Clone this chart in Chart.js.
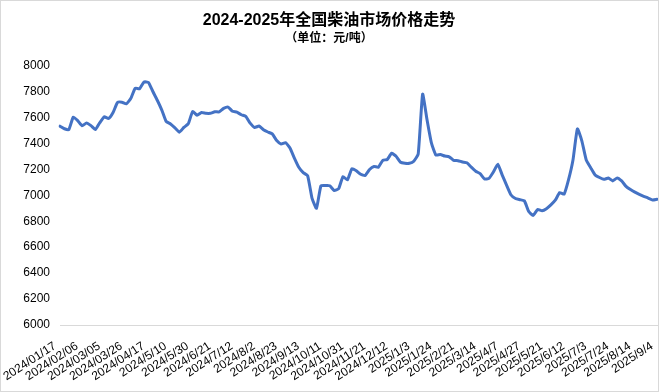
<!DOCTYPE html>
<html>
<head>
<meta charset="utf-8">
<script src="https://cdn.jsdelivr.net/npm/chart.js@4"></script>
<style>
  body { margin: 0; background: #fff; }
  #wrap { position: absolute; left: 0; top: 0; width: 657px; height: 390px; border: 1px solid #d9d9d9; }
</style>
</head>
<body>
<div id="wrap"><canvas id="priceChart" width="657" height="390"></canvas></div>
<script>
// Tick labels shown on the x axis (one every 5 points)
const tickLabels = [
  '2024/01/17', '2024/02/06', '2024/03/05', '2024/03/26', '2024/04/17', '2024/5/10', '2024/5/30',
  '2024/6/21', '2024/7/12', '2024/8/2', '2024/8/23', '2024/9/13', '2024/10/11', '2024/10/31',
  '2024/11/21', '2024/12/12', '2025/1/3', '2025/1/24', '2025/2/21', '2025/3/14', '2025/4/7',
  '2025/4/27', '2025/5/21', '2025/6/12', '2025/7/3', '2025/7/24', '2025/8/14', '2025/9/4'
];

// Diesel price, yuan/ton
const prices = [
  7533, 7513, 7507, 7603, 7576, 7536, 7558, 7537, 7507, 7560,
  7605, 7592, 7638, 7716, 7718, 7705, 7746, 7826, 7822, 7874,
  7870, 7800, 7733, 7659, 7570, 7550, 7520, 7487, 7523, 7551,
  7646, 7617, 7638, 7632, 7632, 7644, 7643, 7670, 7680, 7648,
  7641, 7621, 7609, 7556, 7523, 7534, 7506, 7488, 7473, 7422,
  7395, 7406, 7365, 7287, 7216, 7175, 7151, 6976, 6900, 7073,
  7075, 7074, 7037, 7050, 7144, 7119, 7205, 7189, 7162, 7153,
  7199, 7222, 7217, 7270, 7276, 7324, 7301, 7255, 7247, 7247,
  7263, 7318, 7780, 7582, 7402, 7310, 7314, 7303, 7297, 7270,
  7267, 7257, 7251, 7217, 7186, 7167, 7126, 7130, 7179, 7240,
  7156, 7077, 7002, 6975, 6966, 6958, 6875, 6845, 6890, 6881,
  6897, 6926, 6962, 7021, 7009, 7120, 7272, 7512, 7420, 7272,
  7213, 7157, 7137, 7123, 7133, 7111, 7134, 7111, 7069, 7044,
  7024, 7007, 6992, 6979, 6964, 6969
];

const labels = prices.map((_, i) => (i % 5 === 0 ? tickLabels[i / 5] : ''));

const fontFamily = '"Liberation Sans", Arial, "Noto Sans CJK SC", sans-serif';

const ctx = document.getElementById('priceChart').getContext('2d');
new Chart(ctx, {
  type: 'line',
  data: {
    labels: labels,
    datasets: [{
      data: prices,
      borderColor: '#4472C4',
      borderWidth: 3,
      pointRadius: 0,
      fill: false,
      tension: 0.15,
      borderJoinStyle: 'round',
      borderCapStyle: 'round'
    }]
  },
  options: {
    responsive: false,
    animation: false,
    layout: { padding: { left: 0, right: 1, top: 0, bottom: 0 } },
    plugins: {
      legend: { display: false },
      tooltip: { enabled: false },
      title: {
        display: true,
        text: '2024-2025年全国柴油市场价格走势',
        color: '#000',
        font: { family: fontFamily, size: 16, weight: 'bold' },
        padding: { top: 10, bottom: 0 }
      },
      subtitle: {
        display: true,
        text: '（单位：元/吨）',
        color: '#000',
        font: { family: fontFamily, size: 12, weight: 'bold' },
        padding: { top: 1, bottom: 20 }
      }
    },
    scales: {
      x: {
        grid: { display: false, drawTicks: false },
        border: { display: true, color: '#d9d9d9', width: 1 },
        ticks: {
          autoSkip: false,
          minRotation: 33,
          maxRotation: 33,
          padding: 14,
          labelOffset: -5,
          color: '#000',
          font: { family: fontFamily, size: 12 }
        },
        afterFit: (scale) => {
          scale.height = 66;
          scale.paddingLeft = 0;
          scale.paddingRight = 0;
        }
      },
      y: {
        min: 6000,
        max: 8000,
        grid: { display: false, drawTicks: false },
        border: { display: false },
        ticks: {
          stepSize: 200,
          padding: 10,
          color: '#000',
          font: { family: fontFamily, size: 12 },
          callback: (value) => String(value)
        },
        afterFit: (scale) => { scale.width = 59; }
      }
    }
  }
});
</script>
</body>
</html>
